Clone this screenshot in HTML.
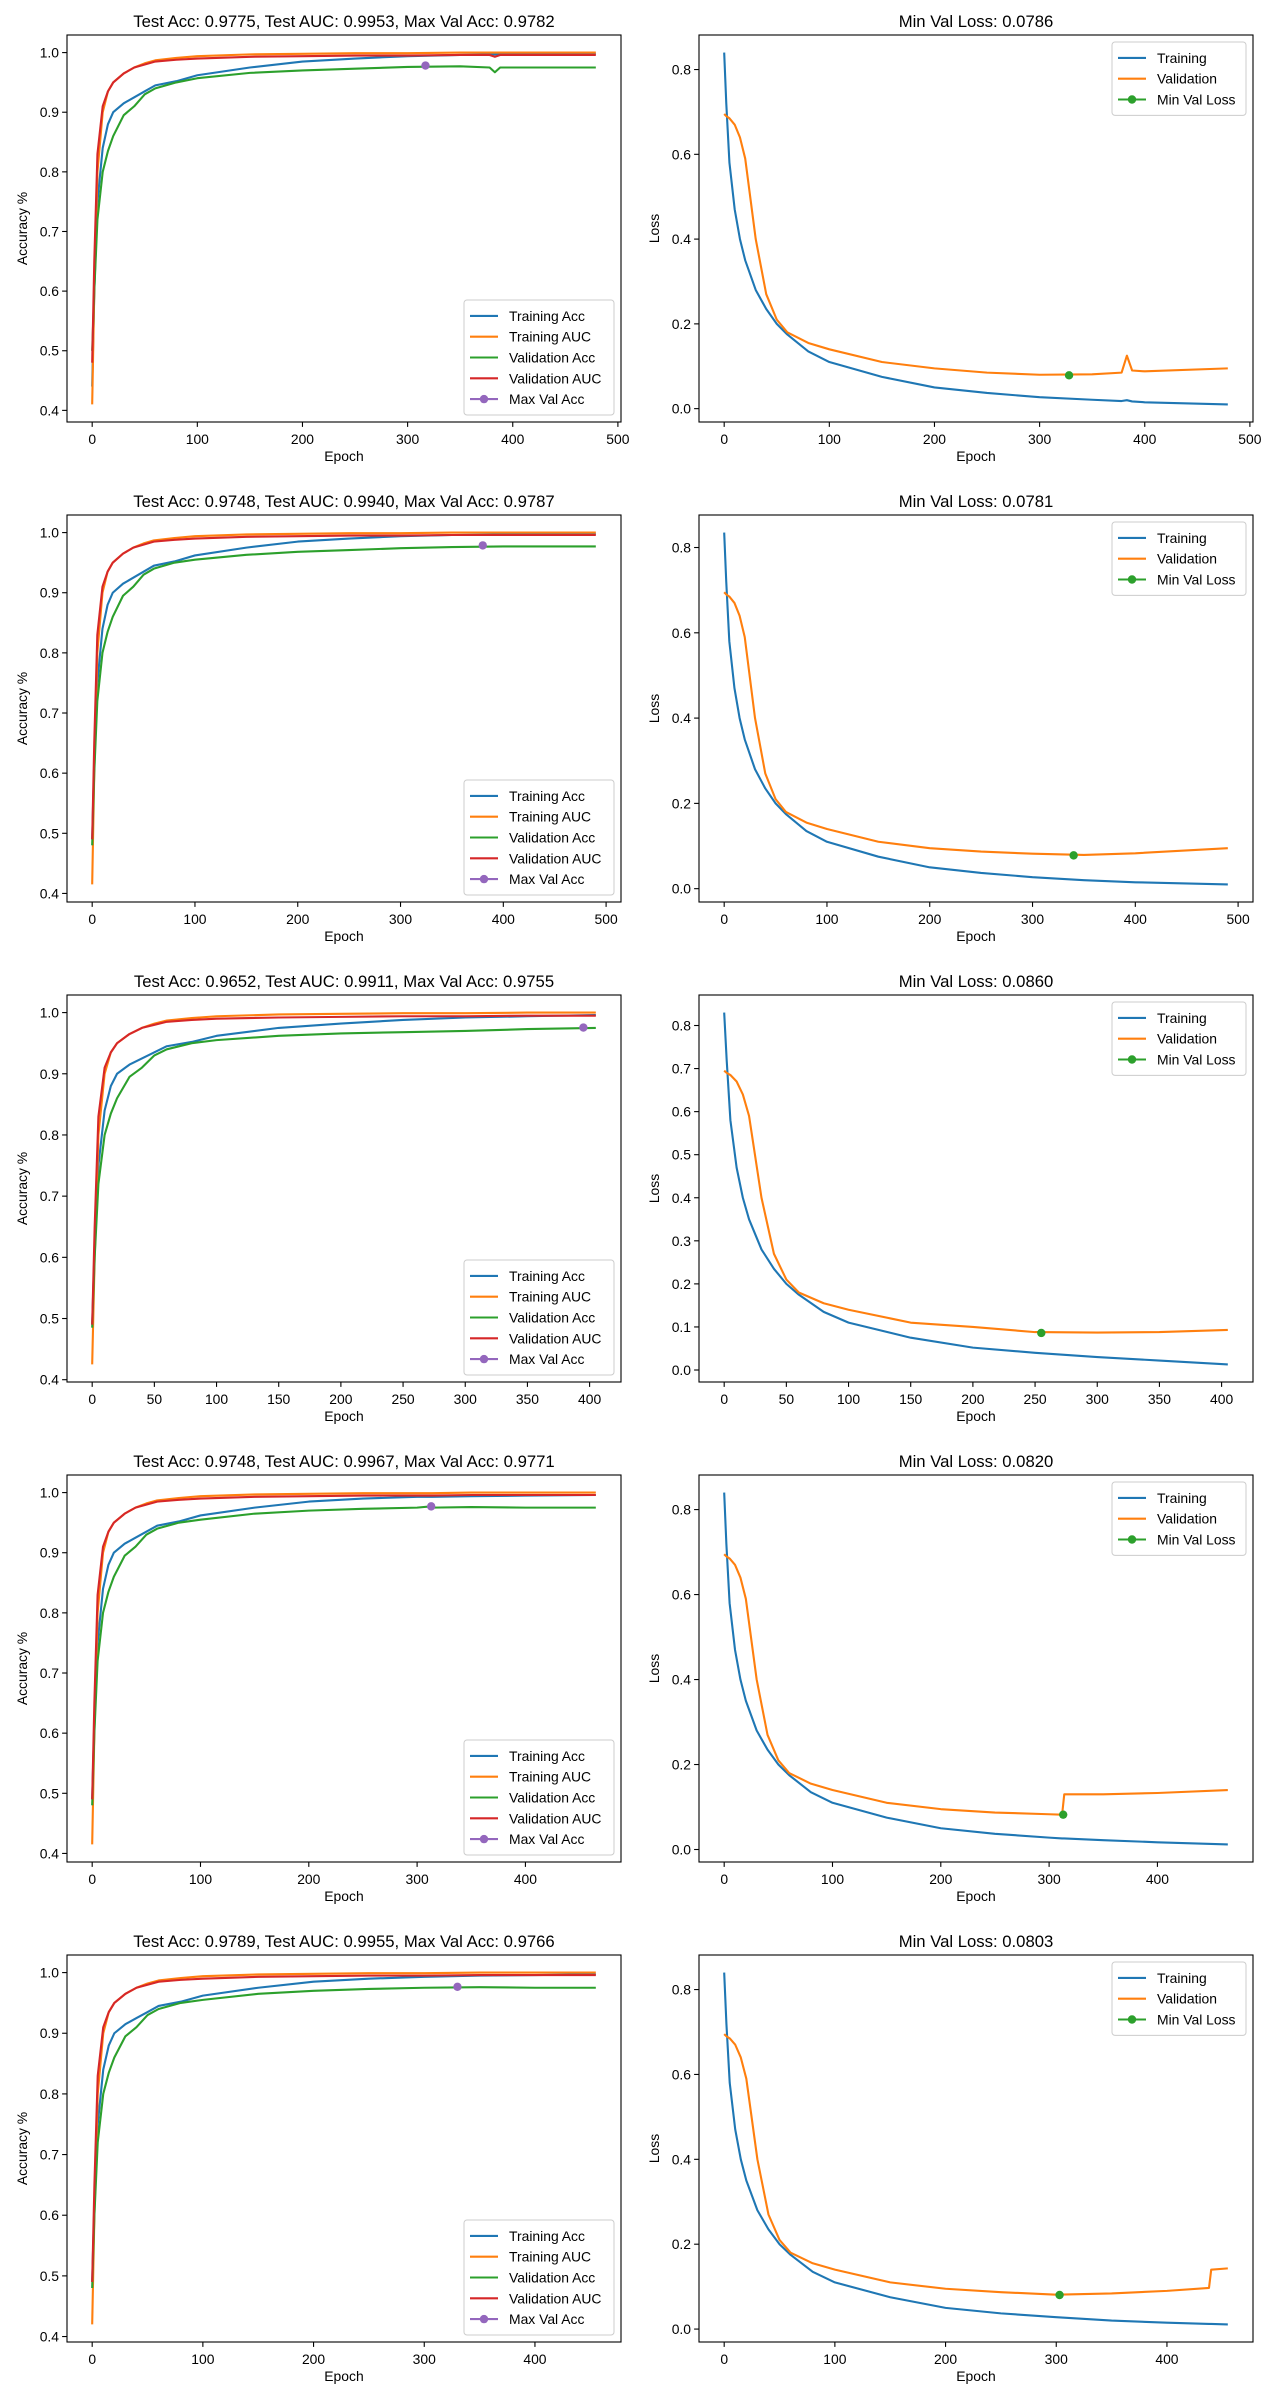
<!DOCTYPE html>
<html><head><meta charset="utf-8"><style>
html,body{margin:0;padding:0;background:#fff;}
svg{display:block;font-family:"Liberation Sans","DejaVu Sans",sans-serif;}
</style></head><body>
<svg id="fig" width="1280" height="2400" xmlns="http://www.w3.org/2000/svg"></svg>
<script>
// ---- Run 1 ----
const epochs1=[0,2,5,10,15,20,30,40,50,60,80,100,150,200,250,300,350,378,383,388,400,479];
const trainAcc1=[.44,.60,.75,.84,.88,.90,.915,.925,.935,.945,.952,.962,.975,.985,.99,.994,.996,.997,.997,.997,.997,.998];
const trainAuc1=[.41,.60,.80,.90,.935,.95,.965,.975,.982,.987,.991,.994,.997,.998,.999,.999,1.0,1.0,1.0,1.0,1.0,1.0];
const valAcc1=[.50,.60,.72,.80,.835,.86,.895,.91,.93,.94,.95,.957,.966,.970,.973,.976,.977,.975,.967,.975,.975,.975];
const valAuc1=[.48,.65,.83,.91,.935,.95,.965,.975,.98,.985,.988,.99,.993,.994,.995,.995,.996,.996,.993,.996,.996,.996];
const trainLoss1=[.84,.72,.58,.47,.40,.35,.28,.235,.20,.175,.135,.11,.075,.05,.037,.027,.021,.018,.02,.017,.015,.01];
const valLoss1=[.695,.69,.685,.67,.64,.59,.40,.27,.21,.18,.155,.14,.11,.095,.085,.08,.081,.085,.125,.09,.088,.095];
const best1=[317,.9782,328,.0786];
const titles1=["Test Acc: 0.9775, Test AUC: 0.9953, Max Val Acc: 0.9782","Min Val Loss: 0.0786"];
// ---- Run 2 ----
const epochs2=[0,2,5,10,15,20,30,40,50,60,80,100,150,200,250,300,350,400,490];
const trainAcc2=[.49,.62,.75,.84,.88,.90,.915,.925,.935,.945,.952,.962,.975,.985,.99,.994,.996,.997,.998];
const trainAuc2=[.415,.60,.80,.90,.935,.95,.965,.975,.982,.987,.991,.994,.997,.998,.999,.999,1.0,1.0,1.0];
const valAcc2=[.48,.60,.72,.80,.835,.86,.895,.91,.93,.94,.95,.955,.963,.968,.971,.974,.976,.977,.977];
const valAuc2=[.49,.65,.83,.91,.935,.95,.965,.975,.98,.985,.988,.99,.993,.994,.995,.995,.996,.996,.996];
const trainLoss2=[.835,.72,.58,.47,.40,.35,.28,.235,.20,.175,.135,.11,.075,.05,.037,.027,.02,.015,.01];
const valLoss2=[.695,.69,.685,.67,.64,.59,.40,.27,.21,.18,.155,.14,.11,.095,.087,.082,.079,.083,.095];
const best2=[380,.9787,340,.0781];
const titles2=["Test Acc: 0.9748, Test AUC: 0.9940, Max Val Acc: 0.9787","Min Val Loss: 0.0781"];
// ---- Run 3 ----
const epochs3=[0,2,5,10,15,20,30,40,50,60,80,100,150,200,250,300,350,405];
const trainAcc3=[.49,.62,.75,.84,.88,.90,.915,.925,.935,.945,.952,.962,.975,.982,.988,.992,.994,.996];
const trainAuc3=[.425,.60,.80,.90,.935,.95,.965,.975,.982,.987,.991,.994,.997,.998,.999,.999,1.0,1.0];
const valAcc3=[.485,.60,.72,.80,.835,.86,.895,.91,.93,.94,.95,.955,.962,.966,.968,.970,.973,.975];
const valAuc3=[.49,.65,.83,.91,.935,.95,.965,.975,.98,.985,.988,.99,.992,.993,.994,.994,.995,.995];
const trainLoss3=[.83,.72,.58,.47,.40,.35,.28,.235,.20,.175,.135,.11,.075,.052,.04,.03,.022,.013];
const valLoss3=[.695,.69,.685,.67,.64,.59,.40,.27,.21,.18,.155,.14,.11,.10,.088,.087,.088,.093];
const best3=[395,.9755,255,.086];
const titles3=["Test Acc: 0.9652, Test AUC: 0.9911, Max Val Acc: 0.9755","Min Val Loss: 0.0860"];
// ---- Run 4 ----
const epochs4=[0,2,5,10,15,20,30,40,50,60,80,100,150,200,250,300,312,314,350,400,465];
const trainAcc4=[.49,.62,.75,.84,.88,.90,.915,.925,.935,.945,.952,.962,.975,.985,.99,.993,.993,.993,.994,.995,.996];
const trainAuc4=[.415,.60,.80,.90,.935,.95,.965,.975,.982,.987,.991,.994,.997,.998,.999,.999,.999,.999,1.0,1.0,1.0];
const valAcc4=[.48,.60,.72,.80,.835,.86,.895,.91,.93,.94,.95,.955,.965,.970,.973,.975,.977,.975,.976,.975,.975];
const valAuc4=[.49,.65,.83,.91,.935,.95,.965,.975,.98,.985,.988,.99,.993,.994,.995,.995,.995,.995,.996,.996,.996];
const trainLoss4=[.84,.72,.58,.47,.40,.35,.28,.235,.20,.175,.135,.11,.075,.05,.037,.028,.026,.026,.022,.017,.012];
const valLoss4=[.695,.69,.685,.67,.64,.59,.40,.27,.21,.18,.155,.14,.11,.095,.087,.083,.082,.13,.13,.133,.14];
const best4=[313,.9771,313,.082];
const titles4=["Test Acc: 0.9748, Test AUC: 0.9967, Max Val Acc: 0.9771","Min Val Loss: 0.0820"];
// ---- Run 5 ----
const epochs5=[0,2,5,10,15,20,30,40,50,60,80,100,150,200,250,300,350,400,438,440,455];
const trainAcc5=[.49,.62,.75,.84,.88,.90,.915,.925,.935,.945,.952,.962,.975,.985,.99,.993,.995,.996,.997,.997,.997];
const trainAuc5=[.42,.60,.80,.90,.935,.95,.965,.975,.982,.987,.991,.994,.997,.998,.999,.999,1.0,1.0,1.0,1.0,1.0];
const valAcc5=[.48,.60,.72,.80,.835,.86,.895,.91,.93,.94,.95,.955,.965,.970,.973,.975,.976,.975,.975,.975,.975];
const valAuc5=[.49,.65,.83,.91,.935,.95,.965,.975,.98,.985,.988,.99,.993,.994,.995,.995,.996,.996,.996,.996,.996];
const trainLoss5=[.84,.72,.58,.47,.40,.35,.28,.235,.20,.175,.135,.11,.075,.05,.037,.028,.02,.015,.012,.012,.011];
const valLoss5=[.695,.69,.685,.67,.64,.59,.40,.27,.21,.18,.155,.14,.11,.095,.087,.081,.084,.09,.097,.14,.143];
const best5=[330,.9766,303,.0803];
const titles5=["Test Acc: 0.9789, Test AUC: 0.9955, Max Val Acc: 0.9766","Min Val Loss: 0.0803"];
// tick label arrays
const accYTicks=[0.4,0.5,0.6,0.7,0.8,0.9,1.0];
const lossYTicks=[0.0,0.2,0.4,0.6,0.8];
const lossYTicksFine=[0.0,0.1,0.2,0.3,0.4,0.5,0.6,0.7,0.8];
const xTicks500=[0,100,200,300,400,500];
const xTicks400=[0,100,200,300,400];
const xTicks50=[0,50,100,150,200,250,300,350,400];

const runs=[
 {e:epochs1,ta:trainAcc1,tu:trainAuc1,va:valAcc1,vu:valAuc1,tl:trainLoss1,vl:valLoss1,b:best1,t:titles1,xt:xTicks500,xt2:xTicks500,ly:lossYTicks},
 {e:epochs2,ta:trainAcc2,tu:trainAuc2,va:valAcc2,vu:valAuc2,tl:trainLoss2,vl:valLoss2,b:best2,t:titles2,xt:xTicks500,xt2:xTicks500,ly:lossYTicks},
 {e:epochs3,ta:trainAcc3,tu:trainAuc3,va:valAcc3,vu:valAuc3,tl:trainLoss3,vl:valLoss3,b:best3,t:titles3,xt:xTicks50,xt2:xTicks50,ly:lossYTicksFine},
 {e:epochs4,ta:trainAcc4,tu:trainAuc4,va:valAcc4,vu:valAuc4,tl:trainLoss4,vl:valLoss4,b:best4,t:titles4,xt:xTicks400,xt2:xTicks400,ly:lossYTicks},
 {e:epochs5,ta:trainAcc5,tu:trainAuc5,va:valAcc5,vu:valAuc5,tl:trainLoss5,vl:valLoss5,b:best5,t:titles5,xt:xTicks400,xt2:xTicks400,ly:lossYTicks}
];

const NS="http://www.w3.org/2000/svg";
const svg=document.getElementById('fig');
function mk(tag,parent){const el=document.createElementNS(NS,tag);parent.appendChild(el);return el;}
function fmt(v,d){return v.toFixed(d);}

function drawAxes(g,L,T,R,B,xs,ys,xTicks,yTicks,yDec,title,ylabel,series,markerPt,markerColor,legendItems,legendLoc,prefix){
  const frame=mk('rect',g);
  
  
  frame.setAttribute('x',L);frame.setAttribute('y',T);frame.setAttribute('width',R-L);frame.setAttribute('height',B-T);
  frame.setAttribute('fill','#fff');
  series.forEach(s=>{
    const p=mk('polyline',g);
    
    
    p.setAttribute('points',s.x.map((x,i)=>xs(x).toFixed(2)+','+ys(s.y[i]).toFixed(2)).join(' '));
    p.setAttribute('fill','none');p.setAttribute('stroke',s.color);p.setAttribute('stroke-width','2.1');
    p.setAttribute('stroke-linejoin','round');
  });
  const m=mk('circle',g);
  
  
  m.setAttribute('cx',xs(markerPt[0]));m.setAttribute('cy',ys(markerPt[1]));m.setAttribute('r','4.2');m.setAttribute('fill',markerColor);
  const bd=mk('rect',g);
  
  
  bd.setAttribute('x',L);bd.setAttribute('y',T);bd.setAttribute('width',R-L);bd.setAttribute('height',B-T);
  bd.setAttribute('fill','none');bd.setAttribute('stroke','#000');bd.setAttribute('stroke-width','1.1');
  xTicks.forEach(v=>{
    const x=xs(v);
    const tk=mk('line',g);
    
    
    tk.setAttribute('x1',x);tk.setAttribute('x2',x);tk.setAttribute('y1',B);tk.setAttribute('y2',B+4.9);tk.setAttribute('stroke','#000');tk.setAttribute('stroke-width','1.1');
    const tx=mk('text',g);
    
    
    tx.setAttribute('x',x);tx.setAttribute('y',B+22);tx.setAttribute('text-anchor','middle');tx.setAttribute('font-size','13.9');
    tx.textContent=String(v);
  });
  yTicks.forEach(v=>{
    const y=ys(v);
    const tk=mk('line',g);
    
    
    tk.setAttribute('x1',L-4.9);tk.setAttribute('x2',L);tk.setAttribute('y1',y);tk.setAttribute('y2',y);tk.setAttribute('stroke','#000');tk.setAttribute('stroke-width','1.1');
    const tx=mk('text',g);
    
    
    tx.setAttribute('x',L-8);tx.setAttribute('y',y+5);tx.setAttribute('text-anchor','end');tx.setAttribute('font-size','13.9');
    tx.textContent=fmt(v,yDec);
  });
  const tt=mk('text',g);
  
  
  tt.setAttribute('x',(L+R)/2);tt.setAttribute('y',T-8);tt.setAttribute('text-anchor','middle');tt.setAttribute('font-size','16.7');
  tt.textContent=title;
  const xl=mk('text',g);
  
  
  xl.setAttribute('x',(L+R)/2);xl.setAttribute('y',B+39);xl.setAttribute('text-anchor','middle');xl.setAttribute('font-size','13.9');
  xl.textContent='Epoch';
  const yl=mk('text',g);
  
  
  const yx=L-40;
  yl.setAttribute('x',yx);yl.setAttribute('y',(T+B)/2);yl.setAttribute('text-anchor','middle');yl.setAttribute('font-size','13.9');
  yl.setAttribute('transform','rotate(-90 '+yx+' '+((T+B)/2)+')');
  yl.textContent=ylabel;
  const n=legendItems.length;
  const w=legendLoc==='lr'?150:134, h=11+n*20.8;
  const lx=R-7-w, ly=legendLoc==='lr'?B-7-h:T+7;
  const lg=mk('g',g);
  
  
  const lb=mk('rect',lg);
  
  
  lb.setAttribute('x',lx);lb.setAttribute('y',ly);lb.setAttribute('width',w);lb.setAttribute('height',h);lb.setAttribute('rx','3');
  lb.setAttribute('fill','#fff');lb.setAttribute('fill-opacity','0.8');lb.setAttribute('stroke','#ccc');lb.setAttribute('stroke-width','1');
  legendItems.forEach((it,i)=>{
    const cy=ly+5.5+10.4+i*20.8;
    const ln=mk('line',lg);
    
    
    ln.setAttribute('x1',lx+6);ln.setAttribute('x2',lx+34);ln.setAttribute('y1',cy);ln.setAttribute('y2',cy);ln.setAttribute('stroke',it[1]);ln.setAttribute('stroke-width','2.1');
    if(it[2]){const c=mk('circle',lg);
      
      
      c.setAttribute('cx',lx+20);c.setAttribute('cy',cy);c.setAttribute('r','4.2');c.setAttribute('fill',it[1]);}
    const tx=mk('text',lg);
    
    
    tx.setAttribute('x',lx+45);tx.setAttribute('y',cy+5);tx.setAttribute('font-size','13.9');
    tx.textContent=it[0];
  });
}

function lim(vals){const mn=Math.min(...vals),mx=Math.max(...vals),d=(mx-mn)*0.05;return [mn-d,mx+d];}

runs.forEach((r,k)=>{
  const top=35+480*k, bot=422+480*k;
  const g=mk('g',svg);
  
  
  const xl=lim([0,r.e[r.e.length-1]]);
  const L1=67,R1=621;
  const ya=lim(r.ta.concat(r.tu,r.va,r.vu));
  const xs1=v=>L1+(v-xl[0])/(xl[1]-xl[0])*(R1-L1);
  const ys1=v=>bot-(v-ya[0])/(ya[1]-ya[0])*(bot-top);
  drawAxes(g,L1,top,R1,bot,xs1,ys1,r.xt,accYTicks,1,r.t[0],'Accuracy %',[
    {name:'training-acc-line',x:r.e,y:r.ta,color:'#1f77b4'},
    {name:'training-auc-line',x:r.e,y:r.tu,color:'#ff7f0e'},
    {name:'validation-acc-line',x:r.e,y:r.va,color:'#2ca02c'},
    {name:'validation-auc-line',x:r.e,y:r.vu,color:'#d62728'}],
    [r.b[0],r.b[1]],'#9467bd',
    [['Training Acc','#1f77b4'],['Training AUC','#ff7f0e'],['Validation Acc','#2ca02c'],['Validation AUC','#d62728'],['Max Val Acc','#9467bd',1]],'lr','acc-'+(k+1));
  const L2=699,R2=1253;
  const yl=lim(r.tl.concat(r.vl));
  const xs2=v=>L2+(v-xl[0])/(xl[1]-xl[0])*(R2-L2);
  const ys2=v=>bot-(v-yl[0])/(yl[1]-yl[0])*(bot-top);
  drawAxes(g,L2,top,R2,bot,xs2,ys2,r.xt2,r.ly,1,r.t[1],'Loss',[
    {name:'training-loss-line',x:r.e,y:r.tl,color:'#1f77b4'},
    {name:'validation-loss-line',x:r.e,y:r.vl,color:'#ff7f0e'}],
    [r.b[2],r.b[3]],'#2ca02c',
    [['Training','#1f77b4'],['Validation','#ff7f0e'],['Min Val Loss','#2ca02c',1]],'ur','loss-'+(k+1));
});
</script>
</body></html>
